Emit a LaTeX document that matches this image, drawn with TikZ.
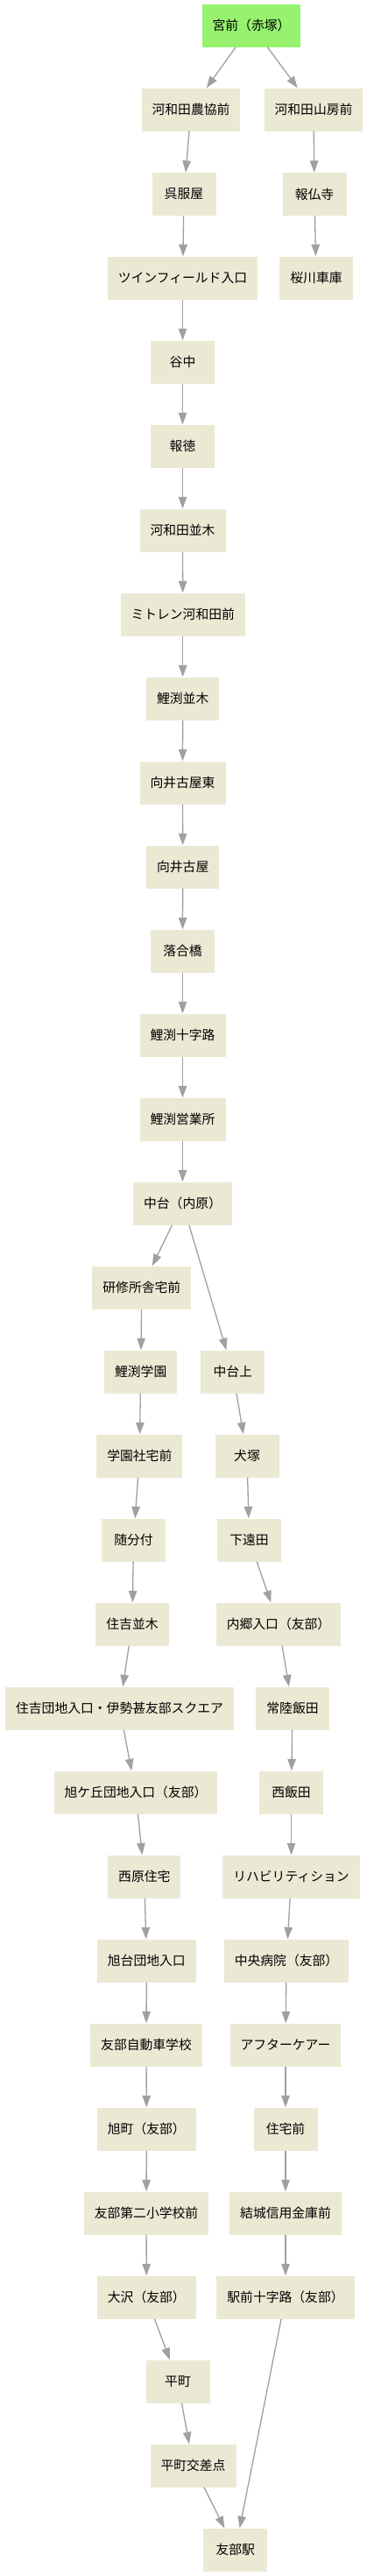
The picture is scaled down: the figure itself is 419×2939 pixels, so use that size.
\documentclass[tikz,border=0pt]{standalone}
\usepackage{fontspec}
\newfontfamily\jpfont{Noto Sans CJK JP}
\usepackage{tikz}
\usetikzlibrary{arrows.meta}
\definecolor{BusStart}{HTML}{96F26F}
\definecolor{BusStop}{HTML}{EBE9D4}
\definecolor{BusEdge}{HTML}{A0A0A0}

\begin{document}
\begin{tikzpicture}[
  x=1pt,y=-1pt,
  stopbox/.style={fill=BusStop,minimum width=73pt,minimum height=49pt,inner xsep=12pt,inner ysep=0pt,font=\jpfont\fontsize{14.8}{16}\selectfont},
  startbox/.style={fill=BusStart},
  arr/.style={-{Triangle[length=13.5pt,width=9.5pt]},line width=1.3pt,BusEdge},
]
\useasboundingbox (0,0) rectangle (419,2939);
\node[stopbox,startbox] (miyamae) at (287,29) {宮前（赤塚）};
\node[stopbox] (nokyo) at (218,125) {河和田農協前};
\node[stopbox] (sanbo) at (358,125) {河和田山房前};
\node[stopbox] (gofukuya) at (210,221.5) {呉服屋};
\node[stopbox] (hobutsuji) at (359,221.5) {報仏寺};
\node[stopbox] (twin) at (208.5,317) {ツインフィールド入口};
\node[stopbox] (sakuragawa) at (361,317) {桜川車庫};
\node[stopbox] (yanaka) at (208.5,413) {谷中};
\node[stopbox] (hotoku) at (208.5,509) {報徳};
\node[stopbox] (namiki) at (208.5,605) {河和田並木};
\node[stopbox] (mitoren) at (208.7,701) {ミトレン河和田前};
\node[stopbox] (koinamiki) at (208.7,797) {鯉渕並木};
\node[stopbox] (mukaihigashi) at (208.5,893) {向井古屋東};
\node[stopbox] (mukai) at (208.7,989) {向井古屋};
\node[stopbox] (ochiai) at (208.5,1085) {落合橋};
\node[stopbox] (jujiro) at (208.5,1181) {鯉渕十字路};
\node[stopbox] (eigyosho) at (208.5,1277) {鯉渕営業所};
\node[stopbox] (nakadai) at (208.5,1373) {中台（内原）};
\node[stopbox] (kenshu) at (161.8,1469) {研修所舎宅前};
\node[stopbox] (gakuen) at (160.7,1565) {鯉渕学園};
\node[stopbox] (nakadaiue) at (265.8,1565) {中台上};
\node[stopbox] (shataku) at (159.3,1661) {学園社宅前};
\node[stopbox] (inuzuka) at (282,1661) {犬塚};
\node[stopbox] (zuibun) at (152.5,1757) {随分付};
\node[stopbox] (shimotoda) at (284.5,1757) {下遠田};
\node[stopbox] (sumiyoshi) at (151,1853) {住吉並木};
\node[stopbox] (uchigo) at (318,1853) {内郷入口（友部）};
\node[stopbox] (square) at (136.5,1949) {住吉団地入口・伊勢甚友部スクエア};
\node[stopbox] (hitachiiida) at (334,1949) {常陸飯田};
\node[stopbox] (asahigaoka) at (155,2045) {旭ケ丘団地入口（友部）};
\node[stopbox] (nishiiida) at (332.5,2045) {西飯田};
\node[stopbox] (nishihara) at (164.8,2141) {西原住宅};
\node[stopbox] (rehab) at (332.5,2141) {リハビリティション};
\node[stopbox] (asahidai) at (167.3,2237) {旭台団地入口};
\node[stopbox] (chuo) at (327,2237) {中央病院（友部）};
\node[stopbox] (jidosha) at (167,2333) {友部自動車学校};
\node[stopbox] (aftercare) at (326,2333) {アフターケアー};
\node[stopbox] (asahimachi) at (167.3,2429) {旭町（友部）};
\node[stopbox] (jutaku) at (326,2429) {住宅前};
\node[stopbox] (daini) at (167,2525) {友部第二小学校前};
\node[stopbox] (yuki) at (326,2525) {結城信用金庫前};
\node[stopbox] (osawa) at (167.3,2621) {大沢（友部）};
\node[stopbox] (ekimae) at (326,2621) {駅前十字路（友部）};
\node[stopbox] (hiramachi) at (203,2717) {平町};
\node[stopbox] (kosaten) at (220.5,2813) {平町交差点};
\node[stopbox] (tomobe) at (268.7,2909) {友部駅};
\draw[arr] (miyamae) -- (nokyo);
\draw[arr] (miyamae) -- (sanbo);
\draw[arr] (nokyo) -- (gofukuya);
\draw[arr] (sanbo) -- (hobutsuji);
\draw[arr] (gofukuya) -- (twin);
\draw[arr] (hobutsuji) -- (sakuragawa);
\draw[arr] (twin) -- (yanaka);
\draw[arr] (yanaka) -- (hotoku);
\draw[arr] (hotoku) -- (namiki);
\draw[arr] (namiki) -- (mitoren);
\draw[arr] (mitoren) -- (koinamiki);
\draw[arr] (koinamiki) -- (mukaihigashi);
\draw[arr] (mukaihigashi) -- (mukai);
\draw[arr] (mukai) -- (ochiai);
\draw[arr] (ochiai) -- (jujiro);
\draw[arr] (jujiro) -- (eigyosho);
\draw[arr] (eigyosho) -- (nakadai);
\draw[arr] (nakadai) -- (kenshu);
\draw[arr] (nakadai) -- (nakadaiue);
\draw[arr] (kenshu) -- (gakuen);
\draw[arr] (gakuen) -- (shataku);
\draw[arr] (shataku) -- (zuibun);
\draw[arr] (zuibun) -- (sumiyoshi);
\draw[arr] (sumiyoshi) -- (square);
\draw[arr] (square) -- (asahigaoka);
\draw[arr] (asahigaoka) -- (nishihara);
\draw[arr] (nishihara) -- (asahidai);
\draw[arr] (asahidai) -- (jidosha);
\draw[arr] (jidosha) -- (asahimachi);
\draw[arr] (asahimachi) -- (daini);
\draw[arr] (daini) -- (osawa);
\draw[arr] (osawa) -- (hiramachi);
\draw[arr] (hiramachi) -- (kosaten);
\draw[arr] (kosaten) -- (tomobe);
\draw[arr] (nakadaiue) -- (inuzuka);
\draw[arr] (inuzuka) -- (shimotoda);
\draw[arr] (shimotoda) -- (uchigo);
\draw[arr] (uchigo) -- (hitachiiida);
\draw[arr] (hitachiiida) -- (nishiiida);
\draw[arr] (nishiiida) -- (rehab);
\draw[arr] (rehab) -- (chuo);
\draw[arr] (chuo) -- (aftercare);
\draw[arr] (aftercare) -- (jutaku);
\draw[arr] (jutaku) -- (yuki);
\draw[arr] (yuki) -- (ekimae);
\draw[arr] (ekimae) -- (tomobe);
\end{tikzpicture}
\end{document}
